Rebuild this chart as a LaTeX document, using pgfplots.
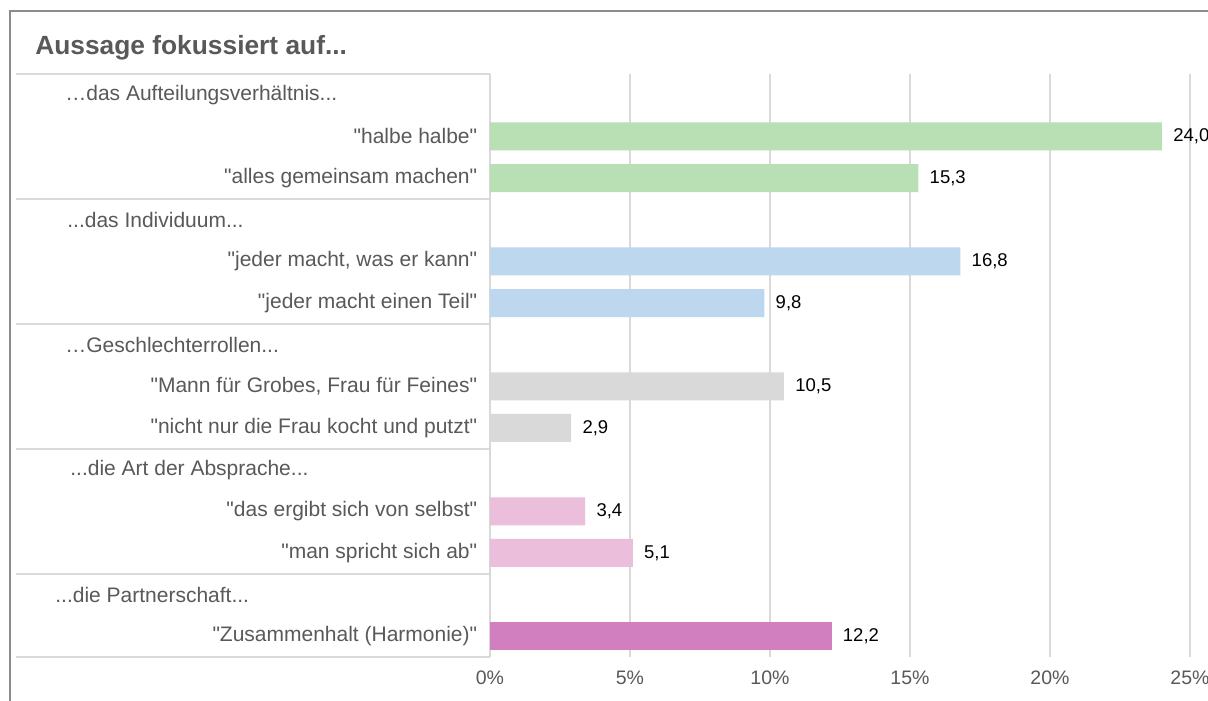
\documentclass[border=0pt]{standalone}
\usepackage{fontspec}
\setmainfont{Liberation Sans}[Ligatures=TeXOff]
\usepackage{pgfplots}
\pgfplotsset{compat=1.18}
\definecolor{txt}{HTML}{595959}
\definecolor{gridc}{HTML}{D9D9D9}
\definecolor{framec}{HTML}{8C8C8C}
\definecolor{cgreen}{HTML}{B8E0B4}
\definecolor{cblue}{HTML}{BDD7EE}
\definecolor{cgray}{HTML}{D9D9D9}
\definecolor{cpink}{HTML}{EBBEDC}
\definecolor{cmag}{HTML}{D17FBE}
\def\P#1#2{({#1*0.6pt},{(700-#2)*0.6pt})}
\begin{document}
\begin{tikzpicture}
\useasboundingbox \P{0}{700} rectangle \P{1208}{0};
\clip \P{0}{700} rectangle \P{1208}{0};
\fill[white] \P{0}{700} rectangle \P{1208}{0};
\draw[framec, line width=1.2pt] \P{1260}{11} -- \P{10}{11} -- \P{10}{760};
\node[anchor=base west, inner sep=0pt, text=txt, font=\bfseries\fontsize{15.8}{18}\selectfont] at \P{35}{54.5} {Aussage fokussiert auf...};
\begin{axis}[
 at={(294pt,25.8pt)}, anchor=south west,
 width=420pt, height=349.8pt, scale only axis,
 xbar, bar shift=0pt, bar width=16.8pt,
 xmin=0, xmax=25, ymin=-0.5, ymax=13.5,
 xtick={0,5,...,25},
 xticklabel={\pgfmathprintnumber{\tick}\%},
 ytick={0,2,3,5,6,8,9,11,12},
 yticklabels={{"Zusammenhalt (Harmonie)"},{"man spricht sich ab"},{"das ergibt sich von selbst"},{"nicht nur die Frau kocht und putzt"},{"Mann für Grobes, Frau für Feines"},{"jeder macht einen Teil"},{"jeder macht, was er kann"},{"alles gemeinsam machen"},{"halbe halbe"}},
 /pgf/number format/assume math mode=true,
 major tick length=0pt,
 xmajorgrids, major grid style={gridc, line width=1pt},
 axis lines=left,
 x axis line style={draw=none,-},
 y axis line style={draw=gridc, line width=1pt, -},
 xticklabel style={font=\fontsize{11.7}{14}\selectfont, text=txt, inner sep=0pt, anchor=north, yshift=-8.2pt},
 yticklabel style={font=\fontsize{12.6}{15}\selectfont, text=txt, inner sep=0pt, anchor=east, xshift=-7.5pt},
 nodes near coords={\pgfmathprintnumber[fixed,fixed zerofill,precision=1,use comma]{\pgfplotspointmeta}},
 nodes near coords style={anchor=west, inner sep=0pt, xshift=6.6pt, text=black, font=\fontsize{11.1}{13}\selectfont},
 clip=false,
]
\addplot[fill=cgreen, draw=none, bar shift=0pt] coordinates {(24.0,12) (15.3,11)};
\addplot[fill=cblue, draw=none, bar shift=0pt] coordinates {(16.8,9) (9.8,8)};
\addplot[fill=cgray, draw=none, bar shift=0pt] coordinates {(10.5,6) (2.9,5)};
\addplot[fill=cpink, draw=none, bar shift=0pt] coordinates {(3.4,3) (5.1,2)};
\addplot[fill=cmag, draw=none, bar shift=0pt] coordinates {(12.2,0)};
\end{axis}
\foreach \yy in {74,198.9,323.9,448.8,573.7,657}
  \draw[gridc, line width=1pt] \P{16}{\yy} -- \P{490}{\yy};
\begin{scope}[every node/.style={anchor=west, inner sep=0pt, text=txt, font=\fontsize{12.6}{15}\selectfont}]
\node at \P{65}{94.8} {…das Aufteilungsverhältnis...};
\node at \P{67}{219.8} {...das Individuum...};
\node at \P{65}{344.7} {…Geschlechterrollen...};
\node at \P{70}{469.6} {...die Art der Absprache...};
\node at \P{55}{594.5} {...die Partnerschaft...};
\end{scope}
\end{tikzpicture}
\end{document}
